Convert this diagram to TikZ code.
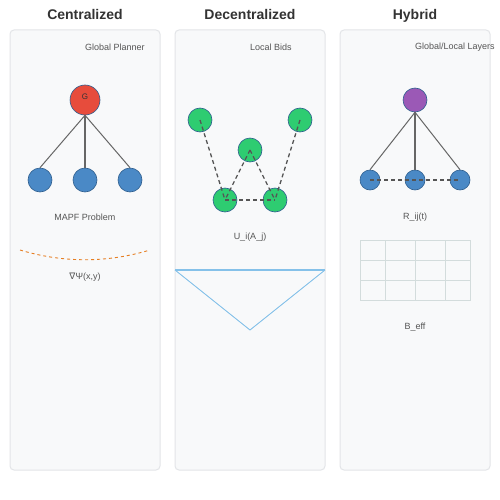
\documentclass[tikz,border=0pt]{standalone}
\usepackage{fontspec}
\setmainfont{Liberation Sans}
\newfontfamily\symfont{DejaVu Sans}
\definecolor{panelfill}{HTML}{F8F9FA}
\definecolor{paneldraw}{HTML}{E3E5E8}
\definecolor{txtdark}{HTML}{333333}
\definecolor{txtgray}{HTML}{555555}
\definecolor{planred}{HTML}{E74C3C}
\definecolor{agentblue}{HTML}{4A89C6}
\definecolor{bidgreen}{HTML}{2ECC71}
\definecolor{hubpurple}{HTML}{9B59B6}
\definecolor{rimblue}{HTML}{2E5E8E}
\definecolor{linkgray}{HTML}{666666}
\definecolor{fieldorange}{HTML}{E67E22}
\definecolor{wedgeblue}{HTML}{85C1E9}
\definecolor{gridgray}{HTML}{D3DCDC}
\tikzset{
  panel/.style={draw=paneldraw, fill=panelfill, rounded corners=4pt, line width=1pt},
  heading/.style={font=\bfseries\fontsize{14}{16}\selectfont, text=txtdark, anchor=base, inner sep=0pt},
  caption/.style={font=\fontsize{9}{11}\selectfont, text=txtgray},
  agent/.style={circle, draw=rimblue, line width=0.6pt, inner sep=0pt, minimum size=24pt},
  link/.style={draw=linkgray, line width=1.2pt},
  bid/.style={draw=txtgray, dashed, dash pattern=on 4pt off 3pt, line width=1.3pt}
}
\begin{document}
\begin{tikzpicture}[x=1pt, y=-1pt]
  \useasboundingbox (0,0) rectangle (500,500);
  \fill[white] (0,0) rectangle (500,500);
  % panels
  \draw[panel] (10,30) rectangle (160,470);
  \draw[panel] (175,30) rectangle (325,470);
  \draw[panel] (340,30) rectangle (490,470);
  \node[heading] (t1) at (85,20) {Centralized};
  \node[heading] (t2) at (250,20) {Decentralized};
  \node[heading] (t3) at (415,20) {Hybrid};
  % centralized
  \node[caption, anchor=west, inner sep=0pt] (c1) at (85,47) {Global Planner};
  \node[agent, fill=planred, minimum size=30pt] (g) at (85,100) {};
  \node[font=\fontsize{8}{10}\selectfont, text=txtdark] (gl) at (85,97) {G};
  \node[agent, fill=agentblue] (a1) at (40,180) {};
  \node[agent, fill=agentblue] (a2) at (85,180) {};
  \node[agent, fill=agentblue] (a3) at (130,180) {};
  \draw[link, line width=1pt] (g.south) -- (a1.north);
  \draw[link, line width=1.6pt] (g.south) -- (a2.north);
  \draw[link, line width=1pt] (g.south) -- (a3.north);
  \node[caption] (c2) at (85,217) {MAPF Problem};
  \coordinate (f1) at (20,250);
  \coordinate (f2) at (150,250);
  \draw[fieldorange, dashed, dash pattern=on 3pt off 3pt, line width=0.9pt]
    (f1) .. controls (63,263) and (107,263) .. (f2);
  \node[caption] (c3) at (85,277) {{\symfont∇}Ψ(x,y)};
  % decentralized
  \node[caption, anchor=west, inner sep=0pt] (d1) at (250,47) {Local Bids};
  \node[agent, fill=bidgreen] (b1) at (200,120) {};
  \node[agent, fill=bidgreen] (b2) at (300,120) {};
  \node[agent, fill=bidgreen] (b3) at (250,150) {};
  \node[agent, fill=bidgreen] (b4) at (225,200) {};
  \node[agent, fill=bidgreen] (b5) at (275,200) {};
  \begin{scope}[bid]
    \draw (b1.center) -- (b4.center);
    \draw (b2.center) -- (b5.center);
    \draw (b3.center) -- (b4.center);
    \draw (b3.center) -- (b5.center);
    \draw (b4.center) -- (b5.center);
  \end{scope}
  \node[caption] (d2) at (250,237) {U\_i(A\_j)};
  \coordinate (w1) at (175,270);
  \coordinate (w2) at (325,270);
  \coordinate (w3) at (250,330);
  \draw[wedgeblue, line width=1.5pt] (w1) -- (w2);
  \draw[wedgeblue, line width=0.9pt] (w1) -- (w3) -- (w2);
  % hybrid
  \node[caption, anchor=west, inner sep=0pt] (h0) at (415,47) {Global/Local Layers};
  \node[agent, fill=hubpurple] (p) at (415,100) {};
  \node[agent, fill=agentblue, minimum size=20pt] (h1) at (370,180) {};
  \node[agent, fill=agentblue, minimum size=20pt] (h2) at (415,180) {};
  \node[agent, fill=agentblue, minimum size=20pt] (h3) at (460,180) {};
  \draw[link, line width=1pt] (p.south) -- (h1.north);
  \draw[link, line width=1.6pt] (p.south) -- (h2.north);
  \draw[link, line width=1pt] (p.south) -- (h3.north);
  \draw[bid] (h1.center) -- (h3.center);
  \node[caption] (r1) at (415,217) {R\_ij(t)};
  \draw[gridgray, line width=1pt] (360,240) rectangle (470,300)
    (385,240) -- (385,300) (415,240) -- (415,300) (445,240) -- (445,300)
    (360,260) -- (470,260) (360,280) -- (470,280);
  \node[caption] (r2) at (415,327) {B\_eff};
\end{tikzpicture}
\end{document}
